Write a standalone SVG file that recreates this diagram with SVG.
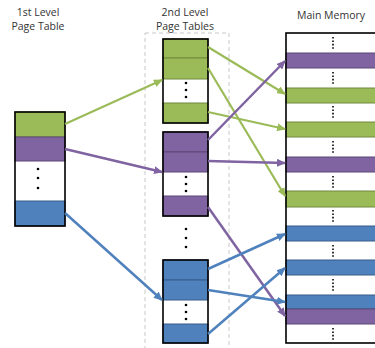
<svg xmlns="http://www.w3.org/2000/svg" width="375" height="348" viewBox="0 0 375 348">
<style>
text{font-family:"Open Sans","Liberation Sans",sans-serif;font-size:10.5px;fill:#333;text-anchor:middle}
.g{fill:#9BBB59;stroke:#71893F;stroke-width:1}
.p{fill:#8064A2;stroke:#5C4776;stroke-width:1}
.b{fill:#4F81BD;stroke:#385D8A;stroke-width:1}
.frame{fill:none;stroke:#000;stroke-width:1.6}
.dot{fill:#000}
.mdots{stroke:#000;stroke-width:1.6;stroke-dasharray:1.6 1.8;fill:none}
.cg{stroke:#9BBB59;stroke-width:2.2;fill:none;marker-end:url(#ag)}
.cp{stroke:#8064A2;stroke-width:2.5;fill:none;marker-end:url(#ap)}
.cb{stroke:#4F81BD;stroke-width:2.5;fill:none;marker-end:url(#ab)}
</style>
<defs>
<marker id="ag" markerWidth="9" markerHeight="8" refX="8" refY="4" orient="auto" markerUnits="userSpaceOnUse"><path d="M0,0 L9,4 L0,8 z" fill="#9BBB59"/></marker>
<marker id="ap" markerWidth="9" markerHeight="8" refX="8" refY="4" orient="auto" markerUnits="userSpaceOnUse"><path d="M0,0 L9,4 L0,8 z" fill="#8064A2"/></marker>
<marker id="ab" markerWidth="9" markerHeight="8" refX="8" refY="4" orient="auto" markerUnits="userSpaceOnUse"><path d="M0,0 L9,4 L0,8 z" fill="#4F81BD"/></marker>
</defs>
<rect width="375" height="348" fill="#fff"/>

<g id="labels">
<text x="38" y="16">1st Level</text>
<text x="38" y="30">Page Table</text>
<text x="185" y="16">2nd Level</text>
<text x="185" y="30">Page Tables</text>
<text x="331" y="19">Main Memory</text>
</g>

<g id="second-level-group">
<rect x="145" y="33" width="84" height="330" fill="none" stroke="#c8c8c8" stroke-width="1" stroke-dasharray="4 3"/>
</g>

<g id="first-level">
<rect class="g" x="15" y="112" width="50" height="25"/>
<rect class="p" x="15" y="137" width="50" height="24"/>
<rect class="b" x="15" y="201" width="50" height="25"/>
<circle class="dot" cx="38" cy="169" r="1.3"/>
<circle class="dot" cx="38" cy="178" r="1.3"/>
<circle class="dot" cx="38" cy="188" r="1.3"/>
<rect class="frame" x="15" y="112" width="50" height="114"/>
</g>

<g id="green-table">
<rect class="g" x="163" y="39" width="45" height="19"/>
<rect class="g" x="163" y="58" width="45" height="21"/>
<rect class="g" x="163" y="103" width="45" height="20"/>
<circle class="dot" cx="186" cy="83" r="1.3"/>
<circle class="dot" cx="186" cy="90" r="1.3"/>
<circle class="dot" cx="186" cy="97" r="1.3"/>
<rect class="frame" x="163" y="39" width="45" height="84"/>
</g>

<g id="purple-table">
<rect class="p" x="163" y="132" width="45" height="20"/>
<rect class="p" x="163" y="152" width="45" height="20"/>
<rect class="p" x="163" y="196" width="45" height="20"/>
<circle class="dot" cx="186" cy="177" r="1.3"/>
<circle class="dot" cx="186" cy="184" r="1.3"/>
<circle class="dot" cx="186" cy="191" r="1.3"/>
<rect class="frame" x="163" y="132" width="45" height="84"/>
</g>

<g id="between-dots">
<circle class="dot" cx="186" cy="229" r="1.3"/>
<circle class="dot" cx="186" cy="238" r="1.3"/>
<circle class="dot" cx="186" cy="247" r="1.3"/>
</g>

<g id="blue-table">
<rect class="b" x="163" y="260" width="45" height="20"/>
<rect class="b" x="163" y="280" width="45" height="20"/>
<rect class="b" x="163" y="324" width="45" height="19"/>
<circle class="dot" cx="186" cy="305" r="1.3"/>
<circle class="dot" cx="186" cy="312" r="1.3"/>
<circle class="dot" cx="186" cy="319" r="1.3"/>
<rect class="frame" x="163" y="260" width="45" height="83"/>
</g>

<g id="main-memory">
<rect class="p" x="286" y="53" width="95" height="15"/>
<rect class="g" x="286" y="88" width="95" height="15"/>
<rect class="g" x="286" y="122" width="95" height="15"/>
<rect class="p" x="286" y="157" width="95" height="15"/>
<rect class="g" x="286" y="191" width="95" height="16"/>
<rect class="b" x="286" y="226" width="95" height="15"/>
<rect class="b" x="286" y="260" width="95" height="15"/>
<rect class="b" x="286" y="295" width="95" height="14"/>
<rect class="p" x="286" y="309" width="95" height="15"/>
<path class="mdots" d="M333,37 V49 M333,72 V84 M333,106 V118 M333,141 V153 M333,176 V188 M333,210 V222 M333,245 V257 M333,279 V291 M333,328 V340"/>
<rect class="frame" x="286" y="33" width="100" height="310"/>
</g>

<g id="connectors">
<line class="cg" x1="65" y1="124" x2="162" y2="80"/>
<line class="cp" x1="65" y1="149" x2="162" y2="172"/>
<line class="cb" x1="65" y1="213" x2="162" y2="300"/>
<line class="cg" x1="208" y1="47" x2="285" y2="94"/>
<line class="cg" x1="208" y1="68" x2="285" y2="196"/>
<line class="cg" x1="208" y1="112" x2="285" y2="129"/>
<line class="cp" x1="208" y1="140" x2="285" y2="61"/>
<line class="cp" x1="208" y1="161" x2="285" y2="163"/>
<line class="cp" x1="208" y1="207" x2="285" y2="316"/>
<line class="cb" x1="208" y1="269" x2="285" y2="234"/>
<line class="cb" x1="208" y1="290" x2="285" y2="302"/>
<line class="cb" x1="208" y1="334" x2="285" y2="268"/>
</g>
</svg>
